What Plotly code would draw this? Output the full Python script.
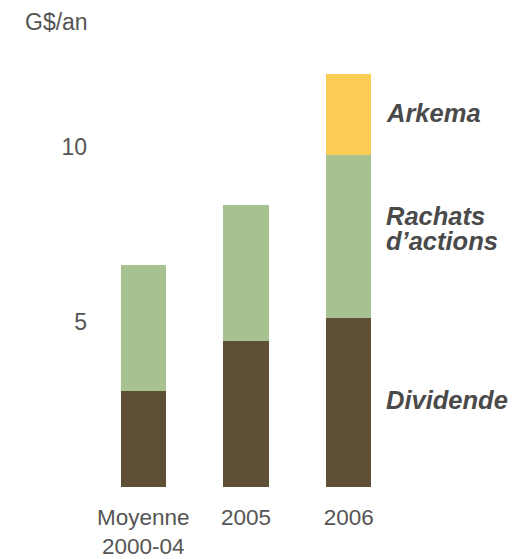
import plotly.graph_objects as go

categories = ["Moyenne<br>2000-04", "2005", "2006"]
dividende = [3.04, 4.46, 5.11]
rachats = [3.60, 3.88, 4.67]
arkema = [0, 0, 2.31]
series_names = ["Dividende", "Rachats", "Arkema"]
tick_vals = [5, 10]
unit_label = "G$/an"

colors = ["#5E4F35", "#A8C191", "#FBCD55"]
FONT = "Liberation Sans, Arial, sans-serif"
GRAY = "#555555"

L, T, PW, PH = 92, 60, 308, 427
W, H = 513, 559

fig = go.Figure()
for vals, name, col in zip([dividende, rachats, arkema], series_names, colors):
    fig.add_trace(go.Bar(x=categories, y=vals, name=name, marker_color=col,
                         marker_line_width=0, width=0.44, showlegend=False))

# series labels to the right of the last bar
labels = [("Dividende", 2.79), ("Rachats", 8.03), ("d\u2019actions", 7.31), ("Arkema", 10.99)]
for txt, ly in labels:
    fig.add_annotation(x=2.34, y=ly, xref="x", yref="y", text="<b><i>%s</i></b>" % txt,
                       showarrow=False, xanchor="left", yanchor="middle", align="left",
                       font=dict(family=FONT, size=25.5, color="#4a4a4a"))

fig.add_annotation(x=(23 - L) / PW, y=1 + (T - 22) / PH, xref="paper", yref="paper",
                   text=unit_label, showarrow=False, xanchor="left", yanchor="middle",
                   font=dict(family=FONT, size=23, color=GRAY))

fig.update_layout(
    barmode="stack",
    width=W, height=H,
    margin=dict(l=L, r=W - L - PW, t=T, b=H - T - PH, autoexpand=False),
    plot_bgcolor="white", paper_bgcolor="white",
    font=dict(family=FONT, size=22, color=GRAY),
    xaxis=dict(showline=False, showgrid=False, ticks="", range=[-0.5, 2.5],
               automargin=False, ticklabelstandoff=14,
               tickfont=dict(size=22.5, color=GRAY)),
    yaxis=dict(showline=False, showgrid=False, zeroline=False, ticks="",
               tickvals=tick_vals, range=[0.29, 12.49], automargin=False,
               ticklabelstandoff=4,
               tickfont=dict(size=23, color=GRAY)),
)

fig.write_html("out.html", config={"displayModeBar": False},
               post_script="document.body.style.margin='0';")
